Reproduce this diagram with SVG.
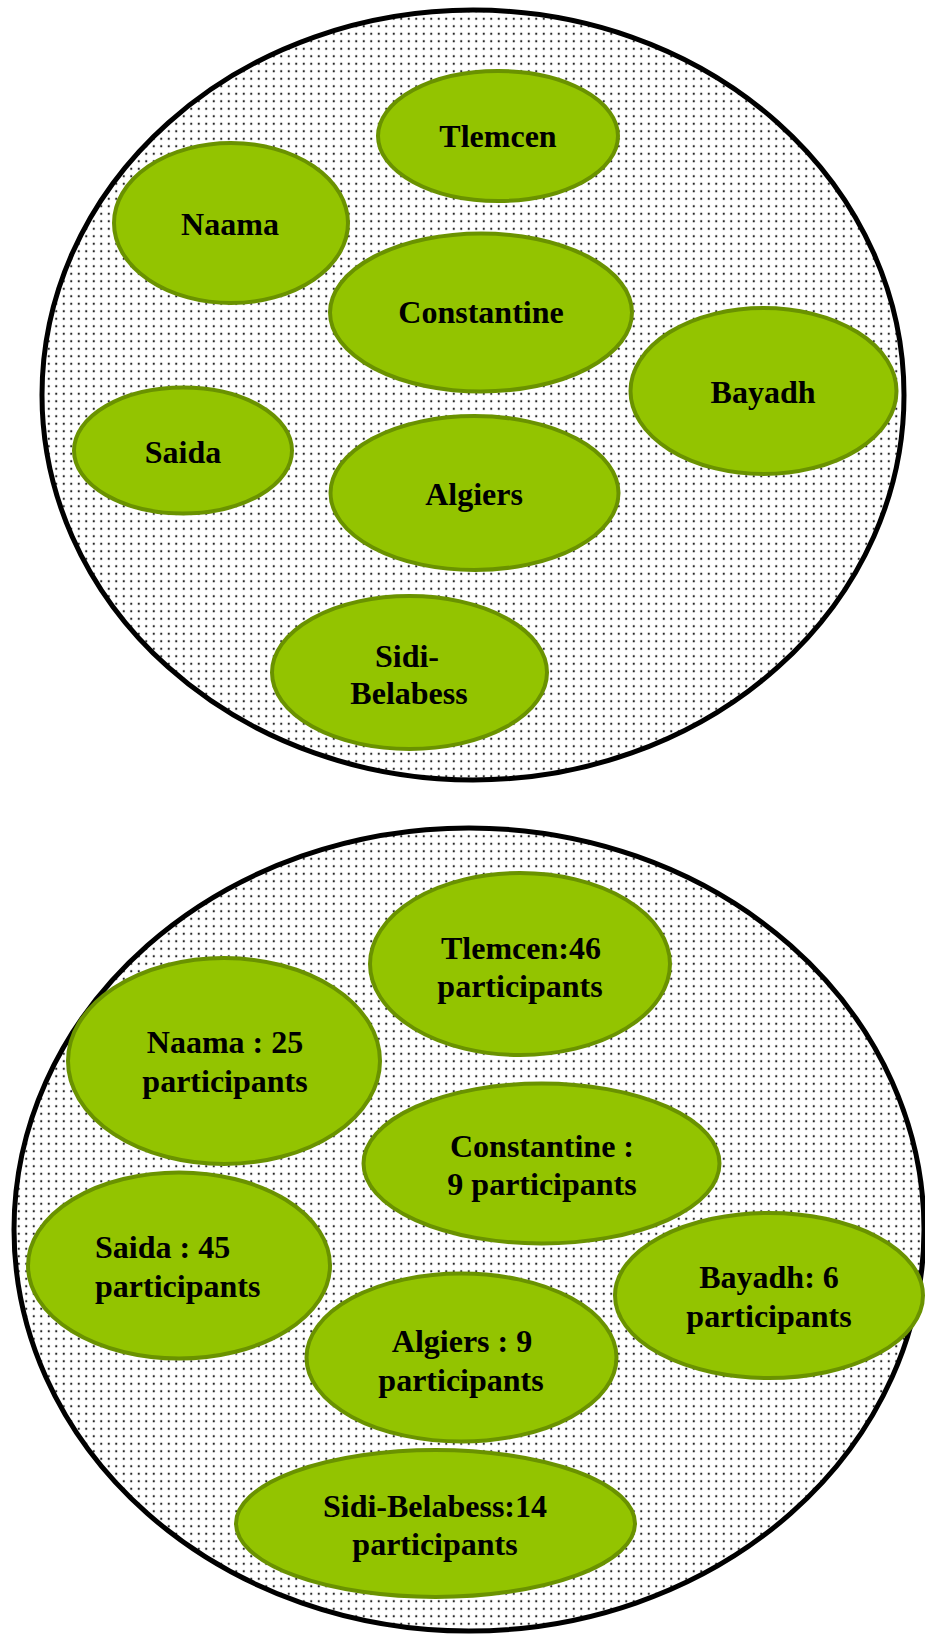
<svg xmlns="http://www.w3.org/2000/svg" width="925" height="1634" viewBox="0 0 925 1634">
<defs>
<pattern id="dots" width="7.5" height="7.5" patternUnits="userSpaceOnUse">
<circle cx="3.75" cy="3.75" r="1.1" fill="#222"/>
</pattern>
</defs>
<style>
.outer{fill:url(#dots);stroke:#000;stroke-width:5}
.node{fill:#93c400;stroke:#6a9200;stroke-width:4}
text{font-family:"Liberation Serif","Times New Roman",serif;font-weight:bold;font-size:32px;fill:#000;text-anchor:middle}
</style>
<rect width="925" height="1634" fill="#fff"/>
<g id="group-top">
<ellipse class="outer" cx="473" cy="395" rx="431" ry="385"/>
</g>
<g id="group-bottom">
<ellipse class="outer" cx="469" cy="1229.5" rx="455" ry="401.5"/>
</g>
<g id="connectors"></g>
<g id="top-tlemcen"><ellipse class="node" cx="498" cy="136" rx="120" ry="65"/><text x="498" y="147">Tlemcen</text></g>
<g id="top-naama"><ellipse class="node" cx="231" cy="223" rx="117" ry="80"/><text x="230" y="235">Naama</text></g>
<g id="top-constantine"><ellipse class="node" cx="481" cy="312.5" rx="151" ry="79"/><text x="481" y="323">Constantine</text></g>
<g id="top-bayadh"><ellipse class="node" cx="763.5" cy="391" rx="133" ry="83"/><text x="763" y="403">Bayadh</text></g>
<g id="top-saida"><ellipse class="node" cx="183" cy="450.5" rx="109" ry="63"/><text x="183" y="463">Saida</text></g>
<g id="top-algiers"><ellipse class="node" cx="474.5" cy="493" rx="144" ry="77"/><text x="474" y="505">Algiers</text></g>
<g id="top-sidibelabess"><ellipse class="node" cx="409.5" cy="672.5" rx="137.5" ry="76.5"/><text x="407" y="667">Sidi-</text><text x="409" y="704">Belabess</text></g>
<g id="bot-tlemcen"><ellipse class="node" cx="520" cy="964" rx="150" ry="91"/><text x="521" y="959">Tlemcen:46</text><text x="520" y="997">participants</text></g>
<g id="bot-naama"><ellipse class="node" cx="224" cy="1061" rx="156" ry="103"/><text x="225" y="1053">Naama : 25</text><text x="225" y="1092">participants</text></g>
<g id="bot-constantine"><ellipse class="node" cx="541.5" cy="1163.5" rx="178" ry="80"/><text x="542" y="1157">Constantine :</text><text x="542" y="1195">9 participants</text></g>
<g id="bot-saida"><ellipse class="node" cx="179" cy="1265.5" rx="151" ry="93"/><text x="95" y="1258" style="text-anchor:start">Saida : 45</text><text x="95" y="1297" style="text-anchor:start">participants</text></g>
<g id="bot-bayadh"><ellipse class="node" cx="769" cy="1295.5" rx="154" ry="82.5"/><text x="769" y="1288">Bayadh: 6</text><text x="769" y="1327">participants</text></g>
<g id="bot-algiers"><ellipse class="node" cx="461.5" cy="1357.5" rx="155" ry="84"/><text x="462" y="1352">Algiers : 9</text><text x="461" y="1391">participants</text></g>
<g id="bot-sidibelabess"><ellipse class="node" cx="435.5" cy="1523.5" rx="199.5" ry="73.5"/><text x="435" y="1517">Sidi-Belabess:14</text><text x="435" y="1555">participants</text></g>
</svg>
